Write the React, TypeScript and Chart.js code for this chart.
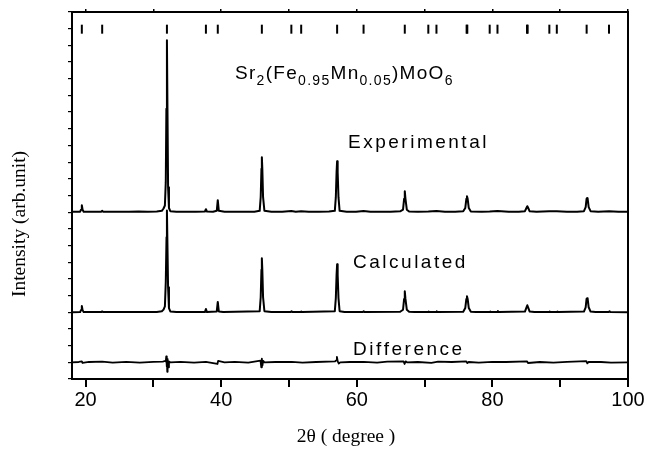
import React, { useEffect, useRef } from 'react';
import { Chart, registerables } from 'chart.js';

Chart.register(...registerables);

// ---- data (2θ in degrees, intensity in arbitrary units above each trace's baseline) ----
const experimental: [number, number][] = [
  [18.0, 0.02], [18.7, 0.03], [19.2, 0.03], [19.33, 0.15], [19.45, 0.42], [19.56, 0.15], [19.72, 0.03],
  [20.6, 0.02], [21.6, 0.03], [22.3, 0.03], [22.45, 0.08], [22.6, 0.03], [23.6, 0.02], [25.0, 0.03],
  [26.4, 0.02], [27.8, 0.04], [29.2, 0.02], [30.5, 0.04], [31.25, 0.08], [31.5, 0.22], [31.7, 0.4],
  [31.83, 1.8], [31.92, 6.2], [32.0, 10.3], [32.08, 6.2], [32.17, 1.5], [32.3, 0.25], [32.5, 0.06],
  [33.4, 0.03], [34.8, 0.02], [36.3, 0.03], [37.6, 0.04], [37.75, 0.18], [37.9, 0.04], [38.8, 0.03],
  [39.35, 0.08], [39.5, 0.72], [39.65, 0.08], [40.5, 0.03], [41.9, 0.02], [43.4, 0.03], [44.9, 0.03],
  [45.68, 0.08], [45.83, 0.9], [45.94, 2.6], [46.0, 3.3], [46.07, 2.6], [46.18, 0.9], [46.38, 0.08],
  [47.4, 0.03], [49.0, 0.02], [50.35, 0.07], [51.0, 0.02], [51.8, 0.06], [52.9, 0.03], [54.4, 0.02],
  [55.9, 0.04], [56.76, 0.08], [56.91, 0.9], [57.02, 2.4], [57.1, 3.06], [57.18, 2.4], [57.3, 0.9],
  [57.47, 0.08], [58.5, 0.03], [59.9, 0.02], [61.0, 0.07], [62.0, 0.02], [63.4, 0.03], [65.0, 0.02],
  [66.4, 0.05], [66.82, 0.15], [66.98, 0.8], [67.08, 1.26], [67.18, 0.8], [67.38, 0.15], [67.72, 0.04],
  [69.0, 0.03], [70.55, 0.04], [71.75, 0.07], [73.0, 0.02], [74.5, 0.03], [75.7, 0.05], [76.0, 0.25],
  [76.16, 0.8], [76.25, 0.96], [76.35, 0.8], [76.52, 0.25], [76.82, 0.04], [78.4, 0.03], [79.6, 0.04],
  [80.75, 0.07], [82.4, 0.02], [83.9, 0.03], [84.8, 0.06], [85.02, 0.25], [85.15, 0.36], [85.28, 0.25],
  [85.5, 0.05], [86.5, 0.03], [88.4, 0.06], [89.5, 0.05], [91.0, 0.02], [92.5, 0.03], [93.5, 0.06],
  [93.76, 0.3], [93.89, 0.8], [93.96, 0.84], [94.05, 0.8], [94.2, 0.3], [94.48, 0.06], [95.6, 0.03],
  [97.2, 0.06], [98.6, 0.02], [100.0, 0.03],
];

const calculated: [number, number][] = [
  [18.0, 0], [19.2, 0.01], [19.33, 0.13], [19.45, 0.38], [19.56, 0.13], [19.72, 0.01], [22.3, 0.01],
  [22.45, 0.05], [22.6, 0.01], [30.5, 0.02], [31.25, 0.06], [31.5, 0.16], [31.7, 0.35], [31.83, 1.8],
  [31.94, 4.5], [32.0, 6.1], [32.06, 4.5], [32.17, 1.5], [32.3, 0.25], [32.5, 0.05], [33.4, 0.01],
  [37.6, 0.01], [37.75, 0.2], [37.9, 0.01], [39.35, 0.05], [39.5, 0.62], [39.65, 0.05], [40.3, 0.01],
  [45.68, 0.06], [45.83, 0.9], [45.94, 2.55], [46.0, 3.24], [46.07, 2.55], [46.18, 0.9], [46.38, 0.06],
  [47.4, 0.01], [50.25, 0.01], [50.38, 0.06], [50.5, 0.01], [51.7, 0.01], [51.82, 0.05], [51.95, 0.01],
  [56.76, 0.06], [56.91, 0.85], [57.02, 2.25], [57.1, 2.88], [57.18, 2.25], [57.3, 0.85], [57.47, 0.06],
  [58.2, 0.01], [60.9, 0.01], [61.02, 0.06], [61.15, 0.01], [66.4, 0.03], [66.82, 0.15], [66.98, 0.8],
  [67.08, 1.26], [67.18, 0.8], [67.38, 0.15], [67.72, 0.03], [68.5, 0.01], [70.5, 0.01], [70.6, 0.04],
  [70.7, 0.01], [71.7, 0.01], [71.8, 0.06], [71.9, 0.01], [75.7, 0.03], [76.0, 0.25], [76.16, 0.8],
  [76.25, 0.96], [76.35, 0.8], [76.52, 0.25], [76.82, 0.03], [77.6, 0.01], [79.6, 0.01], [79.7, 0.04],
  [79.8, 0.01], [80.7, 0.01], [80.82, 0.07], [80.95, 0.01], [84.8, 0.04], [85.02, 0.28], [85.15, 0.42],
  [85.28, 0.28], [85.5, 0.04], [86.2, 0.01], [88.35, 0.01], [88.45, 0.05], [88.55, 0.01], [89.5, 0.01],
  [89.6, 0.04], [89.7, 0.01], [93.5, 0.04], [93.76, 0.3], [93.89, 0.8], [93.96, 0.84], [94.05, 0.8],
  [94.2, 0.3], [94.48, 0.04], [95.2, 0.01], [97.15, 0.01], [97.28, 0.06], [97.4, 0.01], [100.0, 0],
];

const difference: [number, number][] = [
  [18.0, 0], [19.0, 0.02], [19.45, 0.05], [19.55, -0.04], [20.5, 0.02], [22.45, 0.04], [24.0, -0.02],
  [26.0, 0.03], [28.0, -0.02], [30.0, 0.03], [31.4, 0.04], [31.7, 0.08], [31.83, 0.05], [31.9, 0.36],
  [31.96, -0.25], [32.0, 0.3], [32.05, -0.57], [32.1, 0.2], [32.17, -0.3], [32.3, 0.05], [32.5, 0],
  [34.0, 0.03], [36.0, -0.02], [37.75, 0.03], [39.45, -0.1], [39.55, 0.08], [40.5, 0], [42.0, 0.03],
  [44.0, -0.02], [45.8, 0.1], [45.92, -0.3], [46.0, 0.22], [46.08, -0.2], [46.2, 0.08], [46.4, 0],
  [48.0, 0.02], [50.4, 0.03], [52.0, -0.02], [54.0, 0.02], [56.8, 0.06], [56.95, 0.12], [57.07, 0.33],
  [57.2, 0.04], [57.35, -0.07], [57.55, 0], [59.0, 0.02], [61.0, 0.03], [63.0, -0.02], [64.5, 0.04],
  [66.9, 0.05], [67.05, -0.1], [67.2, 0.06], [67.4, 0], [69.0, 0.02], [71.0, -0.03], [72.0, 0.04],
  [74.0, 0.02], [76.15, 0.06], [76.3, -0.05], [76.5, 0.02], [78.0, -0.02], [80.0, 0.03], [82.0, 0.02],
  [85.1, 0.06], [85.25, -0.04], [87.0, 0.02], [89.0, -0.02], [91.0, 0.03], [93.85, 0.07], [94.0, -0.06],
  [94.2, 0.03], [96.0, 0.02], [97.5, -0.02], [100.0, 0],
];

const braggPositions = [
  19.45, 22.45, 32.0, 37.75, 39.5, 46.0, 50.35, 51.8, 57.1, 61.0, 67.08, 70.55, 71.75,
  76.2, 76.3, 79.6, 80.75, 85.1, 85.2, 88.4, 89.5, 93.9, 97.2,
];

const xTickValues = [20, 40, 60, 80, 100];

const EXP_OFFSET = 10;
const CALC_OFFSET = 4;
const DIFF_OFFSET = 1;
const BRAGG_LEVEL = 20.97;

const SANS = '"Liberation Sans", Arial, Helvetica, sans-serif';
const SERIF = '"Liberation Serif", "Times New Roman", serif';

const toPoints = (pts: [number, number][], off: number) => pts.map(([x, y]) => ({ x, y: y + off }));

const drawSpaced = (ctx: CanvasRenderingContext2D, text: string, x: number, y: number, spacing: number) => {
  for (const ch of text) {
    ctx.fillText(ch, x, y);
    x += ctx.measureText(ch).width + spacing;
  }
  return x;
};

const annotationPlugin = {
  id: 'annotations',
  afterDraw(chart: any) {
    const { ctx, chartArea, scales } = chart;
    const xs = scales.x;
    const ys = scales.y;
    ctx.save();
    // frame
    ctx.strokeStyle = '#000';
    ctx.lineWidth = 2;
    ctx.strokeRect(chartArea.left, chartArea.top, chartArea.right - chartArea.left, chartArea.bottom - chartArea.top);

    ctx.fillStyle = '#000';
    ctx.textAlign = 'left';
    ctx.textBaseline = 'alphabetic';

    // labels of the traces
    ctx.font = `19px ${SANS}`;
    drawSpaced(ctx, 'Experimental', xs.getPixelForValue(58.71), ys.getPixelForValue(13.85), 2.5);
    drawSpaced(ctx, 'Calculated', xs.getPixelForValue(59.45), ys.getPixelForValue(6.65), 2.5);
    drawSpaced(ctx, 'Difference', xs.getPixelForValue(59.45), ys.getPixelForValue(1.44), 2.5);

    // formula
    const parts: [string, boolean][] = [
      ['Sr', false], ['2', true], ['(Fe', false], ['0.95', true], ['Mn', false], ['0.05', true], [')MoO', false], ['6', true],
    ];
    let fx = xs.getPixelForValue(42.04);
    const fy = ys.getPixelForValue(18.0);
    for (const [t, sub] of parts) {
      ctx.font = sub ? `14px ${SANS}` : `19px ${SANS}`;
      fx = drawSpaced(ctx, t, fx, sub ? fy + 6 : fy, 1.3);
    }

    // axis titles
    ctx.font = `19.5px ${SERIF}`;
    ctx.textAlign = 'center';
    ctx.textBaseline = 'alphabetic';
    ctx.fillText('2\u03B8 ( degree )', 346, 442);

    ctx.translate(20, 224);
    ctx.rotate(-Math.PI / 2);
    ctx.textBaseline = 'middle';
    ctx.fillText('Intensity (arb.unit)', 0, 0);
    ctx.restore();
  },
};

export default function App() {
  const canvasRef = useRef<HTMLCanvasElement | null>(null);

  useEffect(() => {
    if (!canvasRef.current) return;
    const line = (data: { x: number; y: number }[], width: number) => ({
      data,
      borderColor: '#000',
      backgroundColor: '#000',
      borderWidth: width,
      pointRadius: 0,
      tension: 0,
      fill: false,
      borderJoinStyle: 'round',
    });
    const chart = new Chart(canvasRef.current, {
      type: 'line',
      data: {
        datasets: [
          {
            data: braggPositions.map((x) => ({ x, y: BRAGG_LEVEL })),
            showLine: false,
            pointStyle: 'line',
            pointRotation: 90,
            pointRadius: 4.5,
            pointBorderWidth: 2,
            pointBorderColor: '#000',
            borderColor: '#000',
            backgroundColor: '#000',
          } as any,
          line(toPoints(difference, DIFF_OFFSET), 1.8),
          line(toPoints(calculated, CALC_OFFSET), 2),
          line(toPoints(experimental, EXP_OFFSET), 2),
        ],
      },
      options: {
        animation: false,
        responsive: false,
        events: [],
        plugins: { legend: { display: false }, tooltip: { enabled: false } },
        layout: { padding: { top: 0, right: 21, bottom: 0, left: 0 } },
        scales: {
          x: {
            type: 'linear',
            position: 'bottom',
            min: 18,
            max: 100,
            afterFit: (s: any) => { s.height = 75; },
            ticks: {
              stepSize: 10,
              includeBounds: false,
              autoSkip: false,
              maxRotation: 0,
              padding: 1.5,
              color: '#000',
              font: { family: SANS, size: 20 },
              callback: (v: any) => (xTickValues.includes(Number(v)) ? String(v) : ''),
            },
            grid: { drawOnChartArea: false, drawTicks: true, tickLength: 8, color: '#000', lineWidth: 2 },
            border: { display: true, color: '#000', width: 2 },
          },
          x2: {
            type: 'linear',
            position: 'top',
            min: 18,
            max: 100,
            afterFit: (s: any) => { s.height = 12; },
            ticks: { display: false, stepSize: 10, includeBounds: false },
            grid: { drawOnChartArea: false, drawTicks: true, tickLength: 3, color: '#000', lineWidth: 1.5 },
            border: { display: true, color: '#000', width: 2 },
          },
          y: {
            type: 'linear',
            position: 'left',
            min: 0,
            max: 22,
            afterFit: (s: any) => { s.width = 72; },
            ticks: { display: false, stepSize: 1, includeBounds: false },
            grid: { drawOnChartArea: false, drawTicks: true, tickLength: 4, color: '#000', lineWidth: 1.2 },
            border: { display: true, color: '#000', width: 2 },
          },
        },
      } as any,
      plugins: [annotationPlugin],
    });
    return () => chart.destroy();
  }, []);

  return (
    <canvas
      ref={canvasRef}
      width={649}
      height={454}
      style={{ position: 'fixed', left: 0, top: 0, display: 'block', background: '#fff' }}
    />
  );
}
